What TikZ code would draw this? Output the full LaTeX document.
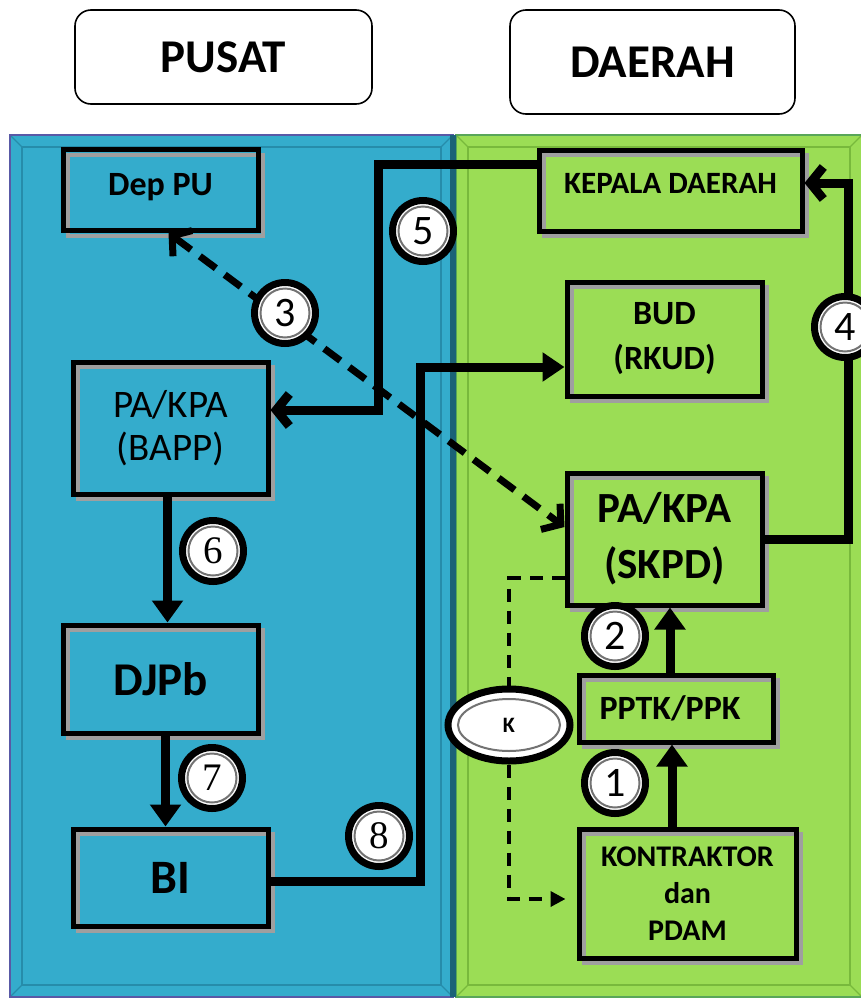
\documentclass[tikz,border=0pt]{standalone}
\usepackage{fontspec}
\setmainfont{Carlito}
\newfontfamily\numserif{Liberation Serif}
\usetikzlibrary{arrows.meta,shapes.geometric,calc}
\definecolor{panelblue}{RGB}{52,172,204}
\definecolor{panelgreen}{RGB}{155,221,85}
\definecolor{bevelblue}{RGB}{38,140,170}
\definecolor{bevelgreen}{RGB}{120,185,60}
\begin{document}
\begin{tikzpicture}[x=1pt,y=-1pt,
  titlebox/.style={draw=black, line width=1.6pt, rounded corners=16pt, fill=white, inner sep=0pt, font=\bfseries\fontsize{47}{47}\selectfont},
  box/.style={draw=black, line width=5pt, rectangle, inner sep=0pt, align=center,
    preaction={draw=gray!75, line width=4pt, transform canvas={shift={(5pt,-5pt)}}}},
  conn/.style={line width=9pt, black},
  dashconn/.style={line width=7pt, black, dash pattern=on 20pt off 11pt},
  thindash/.style={line width=3.5pt, black, dash pattern=on 13pt off 9pt},
  numc/.style={circle, draw=black, fill=white, line width=7pt, minimum size=61pt, inner sep=0pt,
    font=\fontsize{42}{42}\selectfont,
    path picture={\draw[black!55, line width=2pt] (path picture bounding box.center) circle (24.5pt);}},
  serifnum/.style={font=\numserif\fontsize{39}{39}\selectfont},
  barb/.style={-{Straight Barb[length=13pt,width=32pt]}},
  tri/.style={-{Triangle[length=22pt,width=30pt]}}
]
\useasboundingbox (0,0) rectangle (860,999);
\fill[white] (0,0) rectangle (860,999);

% panels
\fill[panelblue] (10,135) rectangle (453,997);
\draw[line width=1.5pt, bevelblue] (22,147) rectangle (441,985);
\draw[line width=1.2pt, bevelblue] (10,135) -- (22,147) (453,135) -- (441,147) (10,997) -- (22,985) (453,997) -- (441,985);
\draw[line width=2pt, gray!70!blue] (10,135) rectangle (453,997);
\fill[panelgreen] (456,135) rectangle (862,997);
\draw[line width=1.5pt, bevelgreen] (468,147) rectangle (850,985);
\draw[line width=1.2pt, bevelgreen] (456,135) -- (468,147) (862,135) -- (850,147) (456,997) -- (468,985) (862,997) -- (850,985);
\draw[line width=2pt, gray!70!green] (456,135) rectangle (862,997);
\fill[bevelblue!70!black] (450,135) rectangle (456,997);

% titles
\node[titlebox, minimum width=297pt, minimum height=94pt] (pusat) at (223.5,57) {PUSAT};
\node[titlebox, minimum width=285pt, minimum height=104pt] (daerah) at (652.5,62) {DAERAH};

% boxes
\node[box, minimum width=195pt, minimum height=81pt, font=\bfseries\fontsize{34}{36}\selectfont] (deppu) at (160.5,190) {\raisebox{12pt}{Dep PU}};
\node[box, minimum width=195pt, minimum height=132pt, font=\fontsize{39}{44}\selectfont] (bapp) at (170.5,428) {\raisebox{-10pt}{\shortstack{PA/KPA\\[10pt](BAPP)}}};
\node[box, minimum width=195pt, minimum height=108pt, font=\bfseries\fontsize{47}{47}\selectfont] (djpb) at (160.5,679) {DJPb};
\node[box, minimum width=195pt, minimum height=97pt, font=\bfseries\fontsize{48}{48}\selectfont] (bi) at (170.5,877.5) {BI};
\node[box, minimum width=263pt, minimum height=81pt, font=\bfseries\fontsize{31}{34}\selectfont] (kepala) at (670.5,190.5) {\raisebox{14pt}{KEPALA DAERAH}};
\node[box, minimum width=195pt, minimum height=114pt, font=\bfseries\fontsize{34}{45}\selectfont] (bud) at (664.5,339) {BUD\\(RKUD)};
\node[box, minimum width=195pt, minimum height=132pt, font=\bfseries\fontsize{43}{56}\selectfont] (skpd) at (664.5,539) {PA/KPA\\(SKPD)};
\node[box, minimum width=194pt, minimum height=67pt, font=\bfseries\fontsize{34}{34}\selectfont] (pptk) at (676,708.5) {PPTK/PPK\hspace{12pt}};
\node[box, minimum width=217pt, minimum height=129pt, font=\bfseries\fontsize{30}{37}\selectfont] (kontr) at (687.5,893.5) {KONTRAKTOR\\dan\\PDAM};

% K ellipse
\node[ellipse, draw=black, fill=white, line width=7pt, minimum width=122pt, minimum height=72pt, inner sep=0pt,
  font=\bfseries\fontsize{22}{22}\selectfont,
  path picture={\draw[black!55, line width=2pt] (path picture bounding box.center) ellipse (51pt and 26pt);}] (k) at (509,725) {K};

% coordinates
\coordinate (c5) at (378,410);
\coordinate (c4) at (848,183);
\coordinate (c8) at (420,367);

% connectors
\draw[conn, barb] ([yshift=26.5pt]kepala.west) -| (c5) -- (bapp.east |- c5);
\draw[dashconn, {Straight Barb[length=13pt,width=32pt]}-{Straight Barb[length=13pt,width=32pt]}] ([xshift=8pt]deppu.south) -- ([yshift=12pt]skpd.west);
\draw[conn, barb] (skpd.east) -| (c4) -- (kepala.east |- c4);
\draw[conn, -{Triangle[length=22pt,width=28pt]}] ([yshift=-4pt]bi.east) -| (c8) -- (bud.west |- c8);
\draw[conn, tri] ([xshift=-3pt]bapp.south) -- ([xshift=7pt]djpb.north);
\draw[conn, tri] ([xshift=5pt]djpb.south) -- ([xshift=-5pt]bi.north);
\draw[conn, tri] ([xshift=-6pt]pptk.north) -- ([xshift=5.5pt]skpd.south);
\draw[conn, tri] ([xshift=-15.5pt]kontr.north) -- ([xshift=-4pt]pptk.south);
\draw[thindash] ([yshift=-39pt]skpd.west) -| (k.north);
\draw[thindash, -{Triangle[length=15pt,width=15pt]}] (k.south) |- ([xshift=-11pt,yshift=-5.5pt]kontr.west);

% number circles
\node[numc] (n5) at (423,231) {5};
\node[numc] (n3) at (285,313) {3};
\node[numc] (n4) at (845,327) {4};
\node[numc, serifnum] (n6) at (213,551) {6};
\node[numc, serifnum] (n7) at (212,778) {7};
\node[numc, serifnum] (n8) at (379,836) {8};
\node[numc] (n2) at (615,636) {2};
\node[numc] (n1) at (615,783) {1};
\end{tikzpicture}
\end{document}
